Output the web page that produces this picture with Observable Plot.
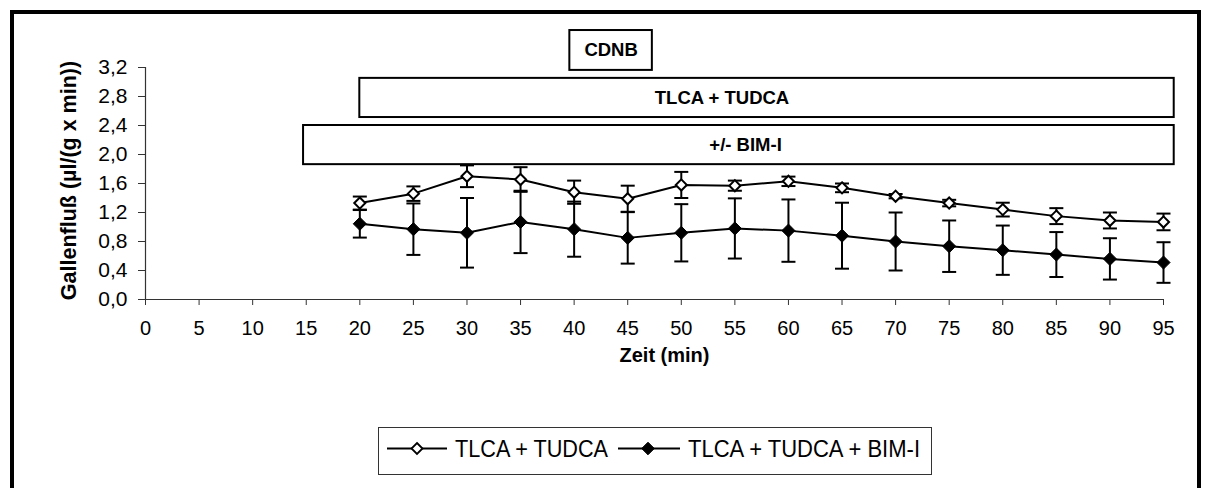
<!DOCTYPE html>
<html><head><meta charset="utf-8">
<script src="https://cdn.jsdelivr.net/npm/d3@7"></script>
<script src="https://cdn.jsdelivr.net/npm/@observablehq/plot@0.6"></script>
<style>
html,body{margin:0;padding:0;background:#fff;overflow:hidden;width:1208px;height:488px;}
#frame{position:absolute;left:10px;top:10px;width:1191px;height:520px;border:4px solid #000;box-sizing:border-box;}
#chart{position:absolute;left:0;top:0;}
#legend{position:absolute;left:0;top:0;}
</style></head><body>
<div id="frame"></div>
<div id="chart"></div>
<svg id="legend" width="1208" height="488"></svg>
<script>
// ---- data ----
const time = [20, 25, 30, 35, 40, 45, 50, 55, 60, 65, 70, 75, 80, 85, 90, 95];
const tlcaTudca = [1.33, 1.46, 1.70, 1.655, 1.48, 1.39, 1.58, 1.57, 1.63, 1.54, 1.425, 1.33, 1.24, 1.15, 1.09, 1.07];
const tlcaTudcaSem = [0.09, 0.10, 0.15, 0.17, 0.16, 0.18, 0.18, 0.07, 0.065, 0.06, 0.03, 0.045, 0.095, 0.11, 0.11, 0.115];
const tlcaTudcaBim = [1.044, 0.97, 0.92, 1.07, 0.97, 0.85, 0.92, 0.98, 0.95, 0.88, 0.80, 0.735, 0.68, 0.62, 0.56, 0.51];
const tlcaTudcaBimSem = [0.19, 0.355, 0.48, 0.43, 0.38, 0.355, 0.395, 0.415, 0.43, 0.455, 0.40, 0.355, 0.34, 0.31, 0.285, 0.28];
const seriesNames = ["TLCA + TUDCA", "TLCA + TUDCA + BIM-I"];
const xTicks = [0, 5, 10, 15, 20, 25, 30, 35, 40, 45, 50, 55, 60, 65, 70, 75, 80, 85, 90, 95];
const yTicks = [0, 0.4, 0.8, 1.2, 1.6, 2.0, 2.4, 2.8, 3.2];
const yTickLabels = ["0,0", "0,4", "0,8", "1,2", "1,6", "2,0", "2,4", "2,8", "3,2"];
const xTitle = "Zeit (min)";
const yTitle = "Gallenfluß (µl/(g x min))";
// treatment periods (min)
const periodLabels = ["CDNB", "TLCA + TUDCA", "+/- BIM-I"];
const periodStart = [39.6, 20, 14.75];
const periodEnd = [47.3, 96, 96];

// ---- build ----
const FONT = "'Liberation Sans', Arial, sans-serif";
const rows = [];
time.forEach((t, i) => rows.push({t, v: tlcaTudca[i], e: tlcaTudcaSem[i], s: seriesNames[0]}));
time.forEach((t, i) => rows.push({t, v: tlcaTudcaBim[i], e: tlcaTudcaBimSem[i], s: seriesNames[1]}));

const bands = [[3.16, 3.71], [2.51, 3.05], [1.86, 2.40]];
const labelX = [43.45, 53.8, 56.0];
const periods = periodLabels.map((label, i) => ({label, x1: periodStart[i], x2: periodEnd[i], y1: bands[i][0], y2: bands[i][1], tx: labelX[i]}));

const capSymbol = {draw(ctx, size) { const w = Math.sqrt(size / Math.PI); ctx.moveTo(-w, 0); ctx.lineTo(w, 0); }};

const H = 390;
const chart = Plot.plot({
  width: 1208, height: H,
  marginLeft: 145, marginRight: 45, marginTop: 67, marginBottom: H - 299,
  style: {fontFamily: FONT, fontSize: "19px", color: "#000", background: "transparent"},
  x: {domain: [0, 95]},
  y: {domain: [0, 3.2]},
  marks: [
    Plot.axisX({ticks: xTicks, tickSize: 6, tickPadding: 15, label: null, tickFormat: d => String(d), fontSize: 20, stroke: "#333"}),
    Plot.axisY({ticks: yTicks, tickSize: 7, tickPadding: 11, label: null, fontSize: 21, stroke: "#333",
      tickFormat: d => yTickLabels[yTicks.indexOf(d)]}),
    Plot.ruleY([0], {stroke: "#333", strokeWidth: 1.2}),
    Plot.ruleX([0], {stroke: "#333", strokeWidth: 1.2}),
    Plot.ruleX(rows, {x: "t", y1: d => d.v - d.e, y2: d => d.v + d.e, stroke: "#000", strokeWidth: 2}),
    Plot.dot(rows, {x: "t", y: d => d.v + d.e, symbol: capSymbol, r: 7, stroke: "#000", strokeWidth: 2, fill: "none"}),
    Plot.dot(rows, {x: "t", y: d => d.v - d.e, symbol: capSymbol, r: 7, stroke: "#000", strokeWidth: 2, fill: "none"}),
    Plot.line(rows, {x: "t", y: "v", z: "s", stroke: "#000", strokeWidth: 2}),
    Plot.dot(rows.filter(d => d.s === seriesNames[1]), {x: "t", y: "v", symbol: "diamond2", r: 5.9, fill: "#000", stroke: "#000", strokeWidth: 1}),
    Plot.dot(rows.filter(d => d.s === seriesNames[0]), {x: "t", y: "v", symbol: "diamond2", r: 5.0, fill: "#fff", stroke: "#000", strokeWidth: 2}),
    Plot.rect(periods, {x1: "x1", x2: "x2", y1: "y1", y2: "y2", fill: "#fff", stroke: "#000", strokeWidth: 2}),
    Plot.text(periods, {x: "tx", y: d => (d.y1 + d.y2) / 2, text: "label", fontWeight: "bold", fontSize: 18.5, fill: "#000"}),
    Plot.text([xTitle], {frameAnchor: "bottom", lineAnchor: "middle", textAnchor: "middle", dx: 10, dy: 56, text: d => d, fontWeight: "bold", fontSize: 20, fill: "#000"}),
    Plot.text([yTitle], {frameAnchor: "left", textAnchor: "middle", lineAnchor: "middle", dx: -76, dy: -3, rotate: -90, text: d => d, fontWeight: "bold", fontSize: 21.5, fill: "#000"})
  ]
});
document.getElementById("chart").appendChild(chart);

// ---- legend ----
const ns = "http://www.w3.org/2000/svg";
const lg = document.getElementById("legend");
function el(tag, attrs) { const e = document.createElementNS(ns, tag); for (const k in attrs) e.setAttribute(k, attrs[k]); lg.appendChild(e); return e; }
el("rect", {x: 378.5, y: 427.5, width: 553, height: 47, fill: "#fff", stroke: "#333", "stroke-width": 1});
const entries = [
  {x1: 387, x2: 447, cx: 417, tx: 455, tw: 153, fill: "#fff"},
  {x1: 618, x2: 680, cx: 648, tx: 688, tw: 232, fill: "#000"}
];
entries.forEach((e, i) => {
  const y = 448.5;
  el("line", {x1: e.x1, x2: e.x2, y1: y, y2: y, stroke: "#000", "stroke-width": 2});
  const r = i === 0 ? 5.5 : 6.3;
  el("polygon", {points: `${e.cx},${y - r} ${e.cx + r},${y} ${e.cx},${y + r} ${e.cx - r},${y}`, fill: e.fill, stroke: "#000", "stroke-width": i === 0 ? 1.8 : 1});
  const t = el("text", {x: e.tx, y: y + 8.5, "font-family": FONT, "font-size": 23, fill: "#000", textLength: e.tw, lengthAdjust: "spacingAndGlyphs"});
  t.textContent = seriesNames[i];
});
</script>
</body></html>
